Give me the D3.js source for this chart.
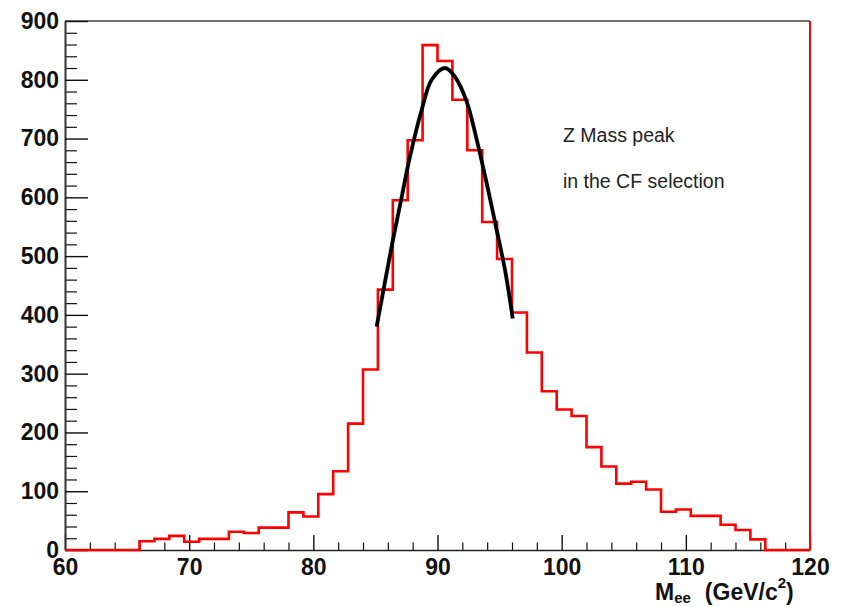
<!DOCTYPE html>
<html>
<head>
<meta charset="utf-8">
<script src="https://cdn.jsdelivr.net/npm/d3@7"></script>
<style>
  html, body { margin: 0; padding: 0; background: #fff; }
  svg { display: block; font-family: "Liberation Sans", Arial, Helvetica, sans-serif; }
</style>
</head>
<body>
<div id="chart"></div>
<script>
// Histogram bins (low edge, GeV) and entries
const binLowEdges = [
  60, 61.2, 62.4, 63.6, 64.8, 66, 67.2, 68.4, 69.6, 70.8,
  72, 73.2, 74.4, 75.6, 76.8, 78, 79.2, 80.4, 81.6, 82.8,
  84, 85.2, 86.4, 87.6, 88.8, 90, 91.2, 92.4, 93.6, 94.8,
  96, 97.2, 98.4, 99.6, 100.8, 102, 103.2, 104.4, 105.6, 106.8,
  108, 109.2, 110.4, 111.6, 112.8, 114, 115.2, 116.4, 117.6, 118.8
];
const binCounts = [
  0, 0, 0, 0, 0, 15, 19, 24, 14, 19,
  19, 31, 29, 38, 38, 64, 57, 95, 134, 215,
  307, 443, 595, 697, 859, 832, 766, 680, 558, 495,
  404, 336, 270, 239, 228, 175, 142, 113, 116, 103,
  65, 69, 58, 58, 43, 34, 18, 0, 0, 0
];

// Gaussian fit curve
const fitMass = [85.1, 86.36, 87.12, 87.78, 88.73, 89.53, 90.6, 91.41, 92.35, 93.16, 93.96, 94.77, 95.44, 96.06];
const fitCounts = [380, 522, 601, 669, 749, 800, 820, 805, 763, 698, 624, 544, 476, 394];

const xMajorTicks = [60, 70, 80, 90, 100, 110, 120];
const yMajorTicks = [0, 100, 200, 300, 400, 500, 600, 700, 800, 900];

const width = 842, height = 607;
const frame = { left: 65, right: 810, top: 21, bottom: 550 };

const svg = d3.select("#chart").append("svg")
  .attr("width", width)
  .attr("height", height);

const x = d3.scaleLinear().domain([60, 120]).range([frame.left, frame.right]);
const y = d3.scaleLinear().domain([0, 900]).range([frame.bottom, frame.top]);

// frame top
svg.append("line")
  .attr("x1", frame.left).attr("x2", frame.right)
  .attr("y1", frame.top).attr("y2", frame.top)
  .attr("stroke", "#444").attr("stroke-width", 1.5);

// minor ticks
const xMinor = d3.range(60, 120.001, 2).filter((v) => v % 10 !== 0);
const yMinor = d3.range(0, 900.001, 20).filter((v) => v % 100 !== 0);

svg.append("g")
  .attr("transform", `translate(0,${frame.bottom})`)
  .call(d3.axisBottom(x).tickValues(xMinor).tickSize(-7.5).tickSizeOuter(0).tickFormat(""))
  .call((g) => g.select(".domain").remove())
  .selectAll("line").attr("stroke", "#111").attr("stroke-width", 1.2);

svg.append("g")
  .attr("transform", `translate(${frame.left},0)`)
  .call(d3.axisLeft(y).tickValues(yMinor).tickSize(-12).tickSizeOuter(0).tickFormat(""))
  .call((g) => g.select(".domain").remove())
  .selectAll("line").attr("stroke", "#111").attr("stroke-width", 1.2);

// major ticks and labels
const xAxis = svg.append("g")
  .attr("transform", `translate(0,${frame.bottom})`)
  .call(d3.axisBottom(x).tickValues(xMajorTicks).tickSize(-15).tickSizeOuter(0).tickPadding(9));
xAxis.select(".domain").attr("stroke", "#222").attr("stroke-width", 1.5);
xAxis.selectAll(".tick line").attr("stroke", "#111").attr("stroke-width", 1.4);
xAxis.selectAll("text")
  .attr("fill", "#111")
  .style("font-size", "23px")
  .style("font-weight", "bold");

const yAxis = svg.append("g")
  .attr("transform", `translate(${frame.left},0)`)
  .call(d3.axisLeft(y).tickValues(yMajorTicks).tickSize(-23).tickSizeOuter(0).tickPadding(6));
yAxis.select(".domain").attr("stroke", "#333").attr("stroke-width", 2);
yAxis.selectAll(".tick line").attr("stroke", "#111").attr("stroke-width", 1.4);
yAxis.selectAll("text")
  .attr("fill", "#111")
  .style("font-size", "23px")
  .style("font-weight", "bold");

// histogram outline
const histPoints = binLowEdges.map((e, i) => [e, binCounts[i]]);
histPoints.push([120, 0]);

const stepLine = d3.line()
  .x((d) => x(d[0]))
  .y((d) => y(d[1]))
  .curve(d3.curveStepAfter);

svg.append("path")
  .datum(histPoints)
  .attr("fill", "none")
  .attr("stroke", "#ff0000")
  .attr("stroke-width", 2.6)
  .attr("d", stepLine);

// right frame edge (red)
svg.append("line")
  .attr("x1", frame.right).attr("x2", frame.right)
  .attr("y1", frame.top).attr("y2", frame.bottom)
  .attr("stroke", "#ff0000").attr("stroke-width", 2);

// fit
const fitLine = d3.line()
  .x((d, i) => x(fitMass[i]))
  .y((d) => y(d))
  .curve(d3.curveCatmullRom);

svg.append("path")
  .datum(fitCounts)
  .attr("fill", "none")
  .attr("stroke", "#000")
  .attr("stroke-width", 3.8)
  .attr("d", fitLine);

// annotations
svg.append("text")
  .attr("x", 563).attr("y", 142)
  .attr("fill", "#222")
  .style("font-size", "19.5px")
  .text("Z Mass peak");

svg.append("text")
  .attr("x", 563).attr("y", 188)
  .attr("fill", "#222")
  .style("font-size", "19.5px")
  .text("in the CF selection");

// axis title
const title = svg.append("text")
  .attr("x", 655).attr("y", 600)
  .attr("fill", "#111")
  .style("font-weight", "bold")
  .style("font-size", "23px");
title.append("tspan").text("M");
title.append("tspan").attr("dy", 3).style("font-size", "15px").text("ee");
title.append("tspan").attr("dy", -3).attr("dx", 14).text("(GeV/c");
title.append("tspan").attr("dy", -12).style("font-size", "15px").text("2");
title.append("tspan").attr("dy", 12).text(")");
</script>
</body>
</html>
